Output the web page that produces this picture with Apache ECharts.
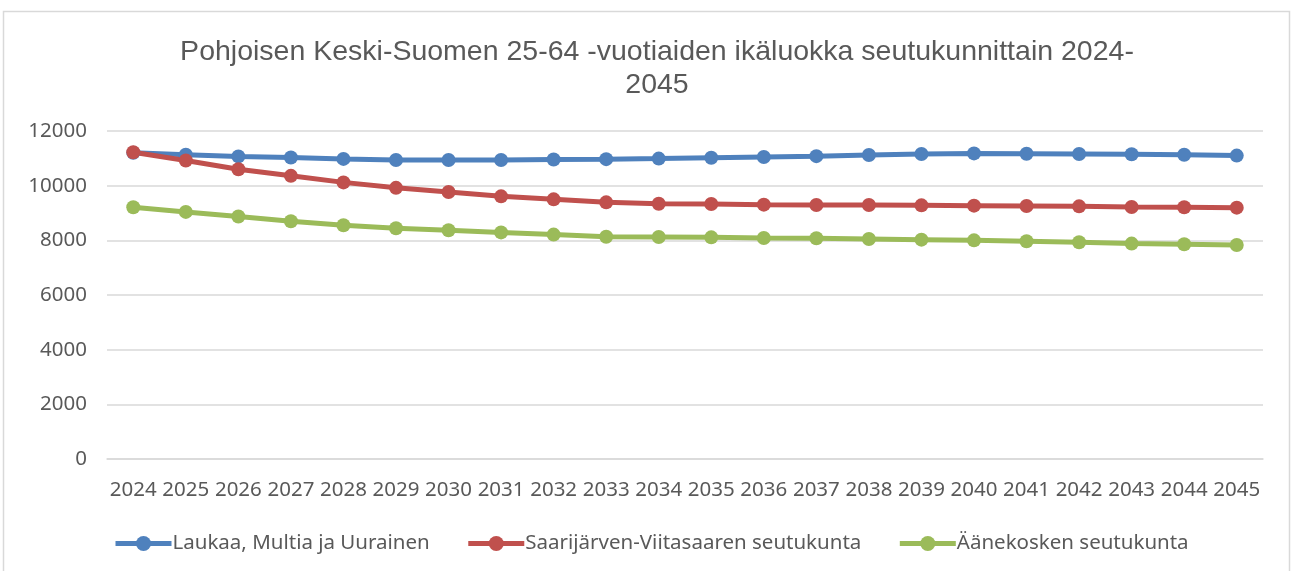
<!DOCTYPE html>
<html>
<head>
<meta charset="utf-8">
<script src="https://cdn.jsdelivr.net/npm/echarts@6/dist/echarts.min.js"></script>
<style>
  html, body { margin: 0; padding: 0; background: #fff; }
  #main { width: 1293px; height: 571px; }
</style>
</head>
<body>
<div id="main"></div>
<script>
var years = ['2024', '2025', '2026', '2027', '2028', '2029', '2030', '2031', '2032', '2033', '2034',
  '2035', '2036', '2037', '2038', '2039', '2040', '2041', '2042', '2043', '2044', '2045']

var laukaa = [11200, 11130, 11070, 11030, 10980, 10940, 10940, 10940, 10960, 10970, 10990,
  11020, 11050, 11080, 11120, 11160, 11180, 11170, 11160, 11150, 11130, 11100]
var saarijarvi = [11220, 10920, 10600, 10360, 10120, 9920, 9770, 9610, 9500, 9390, 9340,
  9330, 9305, 9295, 9290, 9280, 9268, 9256, 9244, 9220, 9208, 9195]
var aanekoski = [9210, 9040, 8870, 8700, 8550, 8440, 8370, 8290, 8210, 8130, 8120,
  8110, 8086, 8074, 8050, 8025, 8000, 7965, 7930, 7880, 7855, 7830]

var seriesNames = ['Laukaa, Multia ja Uurainen', 'Saarijärven-Viitasaaren seutukunta', 'Äänekosken seutukunta']
var yTicks = { min: 0, max: 12000, interval: 2000 }

var myChart = echarts.init(document.getElementById('main'))

function lineSeries(name, data, color) {
  return {
    name: name,
    type: 'line',
    data: data,
    symbol: 'circle',
    symbolSize: 14,
    itemStyle: { color: color },
    lineStyle: { color: color, width: 5 },
    animation: false
  }
}

var option = {
  backgroundColor: '#fff',
  textStyle: { fontFamily: 'Noto Sans' },
  graphic: [{
    type: 'rect',
    shape: { x: 3.5, y: 11.5, width: 1286, height: 600 },
    style: { fill: 'none', stroke: '#d9d9d9', lineWidth: 1.5 },
    silent: true
  }],
  title: {
    text: 'Pohjoisen Keski-Suomen 25-64 -vuotiaiden ikäluokka seutukunnittain 2024-\n2045',
    left: 652,
    top: 31,
    textAlign: 'center',
    textStyle: {
      fontFamily: 'Liberation Sans',
      fontWeight: 'normal',
      fontSize: 28.5,
      lineHeight: 33,
      color: '#595959'
    }
  },
  color: ['#4f81bd', '#c0504d', '#9bbb59'],
  legend: {
    data: seriesNames,
    left: 108,
    top: 528,
    itemWidth: 56,
    itemHeight: 19,
    itemGap: 36,
    lineStyle: { width: 5 },
    textStyle: { fontSize: 20.5, color: '#595959', padding: [0, 0, 0, -4] }
  },
  grid: {
    left: 107,
    right: 30,
    top: 131,
    bottom: 112,
    containLabel: false
  },
  xAxis: {
    type: 'category',
    data: years,
    boundaryGap: true,
    axisLine: { show: true, lineStyle: { color: '#d9d9d9', width: 1.5 } },
    axisTick: { show: false },
    axisLabel: { fontSize: 20.5, color: '#595959', margin: 21, interval: 0 }
  },
  yAxis: {
    type: 'value',
    min: yTicks.min,
    max: yTicks.max,
    interval: yTicks.interval,
    axisLine: { show: false },
    axisTick: { show: false },
    axisLabel: {
      fontSize: 20.5,
      color: '#595959',
      margin: 20,
      formatter: function (v) { return String(v) }
    },
    splitLine: { lineStyle: { color: '#d9d9d9', width: 1.5 } }
  },
  series: [
    lineSeries(seriesNames[0], laukaa, '#4f81bd'),
    lineSeries(seriesNames[1], saarijarvi, '#c0504d'),
    lineSeries(seriesNames[2], aanekoski, '#9bbb59')
  ]
}

myChart.setOption(option)
</script>
</body>
</html>
